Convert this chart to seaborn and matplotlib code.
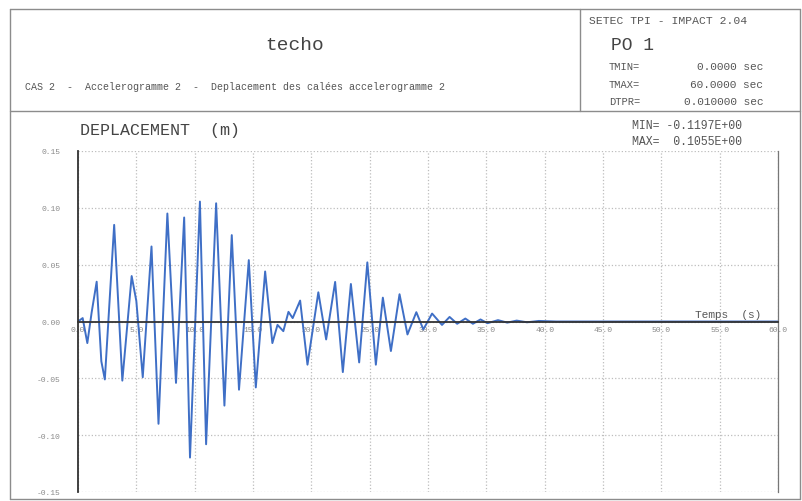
import matplotlib
matplotlib.use("Agg")
import matplotlib.pyplot as plt
from matplotlib.lines import Line2D
from matplotlib.ticker import MultipleLocator, FixedLocator, FuncFormatter
import seaborn as sns
import pandas as pd

# ---- data (extrema / key points of the record) ----
time_s = [0.0, 0.4, 0.8, 1.17, 1.6, 2.0, 2.3, 3.1, 3.8, 4.6, 5.0, 5.55, 6.3, 6.9,
          7.66, 8.4, 9.1, 9.6, 10.45, 10.98, 11.84, 12.55, 13.18, 13.8, 14.64,
          15.24, 16.04, 16.66, 17.1, 17.6, 18.04, 18.4, 19.04, 19.67, 20.6,
          21.27, 22.04, 22.7, 23.39, 24.1, 24.8, 25.53, 26.13, 26.82, 27.56,
          28.24, 29.0, 29.6, 30.35, 31.2, 31.85, 32.5, 33.2, 33.85, 34.5, 35.1,
          36.0, 36.8, 37.6, 38.5, 39.5, 41.0, 60.0]
displacement = [0.0, 0.003, -0.019, 0.008, 0.035, -0.035, -0.051, 0.085, -0.052,
                0.040, 0.018, -0.049, 0.066, -0.090, 0.095, -0.054, 0.0915,
                -0.1197, 0.1055, -0.108, 0.104, -0.074, 0.076, -0.060, 0.054,
                -0.058, 0.044, -0.019, -0.003, -0.0085, 0.0085, 0.003, 0.0184,
                -0.038, 0.0257, -0.0158, 0.0348, -0.0445, 0.033, -0.036, 0.052,
                -0.038, 0.021, -0.026, 0.024, -0.0114, 0.0082, -0.007, 0.007,
                -0.003, 0.004, -0.002, 0.0026, -0.002, 0.0018, -0.0015, 0.0012,
                -0.001, 0.0008, -0.0007, 0.0005, 0.0, 0.0]
x_ticks = [0, 5, 10, 15, 20, 25, 30, 35, 40, 45, 50, 55, 60]
y_ticks = [-0.15, -0.10, -0.05, 0.0, 0.05, 0.10, 0.15]

df = pd.DataFrame({"t": time_s, "d": displacement})

sns.set_style("white")
plt.rcParams["font.family"] = ["Liberation Mono", "DejaVu Sans Mono"]

W, H = 802, 502
fig = plt.figure(figsize=(W / 100, H / 100), dpi=100)
fig.patch.set_facecolor("white")

def fx(px):
    return px / W

def fy(py):
    return 1 - py / H

frame_col = "#8c8c8c"
txt_col = "#555555"

# ---- frame / header box ----
for (x0, y0, x1, y1) in [(10, 10, 800, 10), (10, 112, 800, 112),
                         (580, 10, 580, 112), (10, 10, 10, 500),
                         (800, 10, 800, 500), (10, 500, 800, 500)]:
    fig.add_artist(Line2D([fx(x0), fx(x1)], [fy(y0), fy(y1)],
                          color=frame_col, lw=1.0))

fig.text(fx(295), fy(45), "techo", ha="center", va="center",
         fontsize=14, color="#444444")
fig.text(fx(25), fy(87),
         "CAS 2  -  Accelerogramme 2  -  Deplacement des calées accelerogramme 2",
         ha="left", va="center", fontsize=7.2, color=txt_col)
fig.text(fx(589), fy(21), "SETEC TPI - IMPACT 2.04", ha="left", va="center",
         fontsize=8.2, color=txt_col)
fig.text(fx(611), fy(46), "PO 1", ha="left", va="center", fontsize=13,
         color="#444444")
for py, lab, val in [(67, "TMIN=", "0.0000 sec"), (85, "TMAX=", "60.0000 sec"),
                     (102, "DTPR=", "0.010000 sec")]:
    fig.text(fx(609), fy(py), lab, ha="left", va="center", fontsize=7.5,
             color=txt_col)
    fig.text(fx(763), fy(py), val, ha="right", va="center", fontsize=8,
             color=txt_col)

fig.text(fx(80), fy(130), "DEPLACEMENT  (m)", ha="left", va="center",
         fontsize=12, color="#444444")
fig.text(fx(632), fy(126), "MIN= -0.1197E+00", ha="left", va="center",
         fontsize=8.3, color=txt_col)
fig.text(fx(632), fy(142), "MAX=  0.1055E+00", ha="left", va="center",
         fontsize=8.3, color=txt_col)

# ---- main axes ----
left, right, top, bottom = 78, 778, 152, 493
ax = fig.add_axes([fx(left), fy(bottom), fx(right) - fx(left),
                   (bottom - top) / H])
ax.set_facecolor("white")

sns.lineplot(data=df, x="t", y="d", ax=ax, color="#3f6fc6", lw=1.4,
             estimator=None, sort=False, solid_joinstyle="round")

ax.set_xlim(0, 60)
ax.set_ylim(-0.15, 0.15)
ax.set_xlabel("")
ax.set_ylabel("")

ax.xaxis.set_major_locator(FixedLocator(x_ticks))
ax.xaxis.set_minor_locator(MultipleLocator(1))
ax.yaxis.set_major_locator(FixedLocator(y_ticks))
ax.yaxis.set_minor_locator(MultipleLocator(0.01))
ax.xaxis.set_major_formatter(FuncFormatter(lambda v, p: f"{v:.1f}"))
ax.yaxis.set_major_formatter(FuncFormatter(lambda v, p: f"{v:.2f}"))

ax.grid(True, which="major", color="#bdbdbd", ls=":", lw=0.9)

ax.spines["top"].set_visible(False)
ax.spines["right"].set_color("#777777")
ax.spines["right"].set_linewidth(0.9)
ax.spines["left"].set_color("#333333")
ax.spines["left"].set_linewidth(1.3)
ax.spines["bottom"].set_position(("data", 0))
ax.spines["bottom"].set_color("#333333")
ax.spines["bottom"].set_linewidth(1.3)

ax.tick_params(axis="both", which="major", direction="inout", length=5,
               width=1.0, color="#333333", labelsize=5.8, labelcolor="#8a8a8a")
ax.tick_params(axis="both", which="minor", direction="inout", length=2.5,
               width=0.8, color="#333333")
ax.tick_params(axis="x", pad=1)
ax.tick_params(axis="y", pad=10)

ax.text(58.6, 0.0025, "Temps  (s)", ha="right", va="bottom", fontsize=8,
        color=txt_col)

fig.savefig("out.png", dpi=100, facecolor="white")
